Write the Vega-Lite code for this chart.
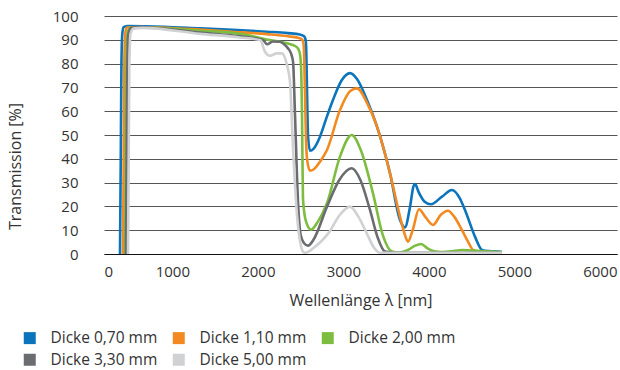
{
  "$schema": "https://vega.github.io/schema/vega-lite/v6.json",
  "autosize": {"type": "none"},
  "width": 513,
  "height": 238,
  "padding": {"left": 104, "top": 16, "right": 3, "bottom": 116},
  "config": {
    "view": {"stroke": null},
    "font": "Open Sans",
    "axis": {"labelFont": "Open Sans", "titleFont": "Open Sans", "labelColor": "#333333", "titleColor": "#333333", "titleFontWeight": "normal"},
    "legend": {"labelFont": "Open Sans"}
  },
  "data": {
    "values": [
      {"s": "Dicke 0,70 mm", "nm": 187, "t": 0},
      {"s": "Dicke 0,70 mm", "nm": 196, "t": 40},
      {"s": "Dicke 0,70 mm", "nm": 204, "t": 80},
      {"s": "Dicke 0,70 mm", "nm": 214, "t": 92.5},
      {"s": "Dicke 0,70 mm", "nm": 230, "t": 95.3},
      {"s": "Dicke 0,70 mm", "nm": 280, "t": 95.8},
      {"s": "Dicke 0,70 mm", "nm": 700, "t": 95.5},
      {"s": "Dicke 0,70 mm", "nm": 1123, "t": 94.8},
      {"s": "Dicke 0,70 mm", "nm": 1500, "t": 94.2},
      {"s": "Dicke 0,70 mm", "nm": 1906, "t": 93.4},
      {"s": "Dicke 0,70 mm", "nm": 2150, "t": 92.8},
      {"s": "Dicke 0,70 mm", "nm": 2292, "t": 92.2},
      {"s": "Dicke 0,70 mm", "nm": 2340, "t": 91.5},
      {"s": "Dicke 0,70 mm", "nm": 2358, "t": 90},
      {"s": "Dicke 0,70 mm", "nm": 2366, "t": 85},
      {"s": "Dicke 0,70 mm", "nm": 2374, "t": 70},
      {"s": "Dicke 0,70 mm", "nm": 2386, "t": 50},
      {"s": "Dicke 0,70 mm", "nm": 2409, "t": 43.4},
      {"s": "Dicke 0,70 mm", "nm": 2450, "t": 44.2},
      {"s": "Dicke 0,70 mm", "nm": 2526, "t": 49.3},
      {"s": "Dicke 0,70 mm", "nm": 2600, "t": 57},
      {"s": "Dicke 0,70 mm", "nm": 2678, "t": 64.7},
      {"s": "Dicke 0,70 mm", "nm": 2780, "t": 73},
      {"s": "Dicke 0,70 mm", "nm": 2877, "t": 76},
      {"s": "Dicke 0,70 mm", "nm": 2959, "t": 73.5},
      {"s": "Dicke 0,70 mm", "nm": 3076, "t": 64.7},
      {"s": "Dicke 0,70 mm", "nm": 3193, "t": 53.5},
      {"s": "Dicke 0,70 mm", "nm": 3345, "t": 33.9},
      {"s": "Dicke 0,70 mm", "nm": 3462, "t": 14.3},
      {"s": "Dicke 0,70 mm", "nm": 3520, "t": 11.2},
      {"s": "Dicke 0,70 mm", "nm": 3580, "t": 20},
      {"s": "Dicke 0,70 mm", "nm": 3620, "t": 28.5},
      {"s": "Dicke 0,70 mm", "nm": 3638, "t": 29.4},
      {"s": "Dicke 0,70 mm", "nm": 3680, "t": 26},
      {"s": "Dicke 0,70 mm", "nm": 3750, "t": 22},
      {"s": "Dicke 0,70 mm", "nm": 3825, "t": 20.9},
      {"s": "Dicke 0,70 mm", "nm": 3950, "t": 24},
      {"s": "Dicke 0,70 mm", "nm": 4070, "t": 26.9},
      {"s": "Dicke 0,70 mm", "nm": 4160, "t": 23.5},
      {"s": "Dicke 0,70 mm", "nm": 4222, "t": 18.5},
      {"s": "Dicke 0,70 mm", "nm": 4339, "t": 7.3},
      {"s": "Dicke 0,70 mm", "nm": 4421, "t": 1.7},
      {"s": "Dicke 0,70 mm", "nm": 4500, "t": 1.2},
      {"s": "Dicke 0,70 mm", "nm": 4573, "t": 1.1},
      {"s": "Dicke 0,70 mm", "nm": 4655, "t": 0.8},

      {"s": "Dicke 1,10 mm", "nm": 222, "t": 0},
      {"s": "Dicke 1,10 mm", "nm": 230, "t": 40},
      {"s": "Dicke 1,10 mm", "nm": 238, "t": 80},
      {"s": "Dicke 1,10 mm", "nm": 248, "t": 92.5},
      {"s": "Dicke 1,10 mm", "nm": 265, "t": 95.2},
      {"s": "Dicke 1,10 mm", "nm": 400, "t": 95.4},
      {"s": "Dicke 1,10 mm", "nm": 1123, "t": 94.3},
      {"s": "Dicke 1,10 mm", "nm": 1500, "t": 93.4},
      {"s": "Dicke 1,10 mm", "nm": 1906, "t": 92.4},
      {"s": "Dicke 1,10 mm", "nm": 2150, "t": 91.5},
      {"s": "Dicke 1,10 mm", "nm": 2292, "t": 90.6},
      {"s": "Dicke 1,10 mm", "nm": 2320, "t": 90},
      {"s": "Dicke 1,10 mm", "nm": 2335, "t": 88},
      {"s": "Dicke 1,10 mm", "nm": 2343, "t": 80},
      {"s": "Dicke 1,10 mm", "nm": 2351, "t": 68},
      {"s": "Dicke 1,10 mm", "nm": 2360, "t": 52},
      {"s": "Dicke 1,10 mm", "nm": 2375, "t": 40},
      {"s": "Dicke 1,10 mm", "nm": 2409, "t": 35},
      {"s": "Dicke 1,10 mm", "nm": 2450, "t": 35.5},
      {"s": "Dicke 1,10 mm", "nm": 2530, "t": 39},
      {"s": "Dicke 1,10 mm", "nm": 2608, "t": 43.7},
      {"s": "Dicke 1,10 mm", "nm": 2760, "t": 60.5},
      {"s": "Dicke 1,10 mm", "nm": 2880, "t": 68.5},
      {"s": "Dicke 1,10 mm", "nm": 2959, "t": 69.6},
      {"s": "Dicke 1,10 mm", "nm": 3076, "t": 63.5},
      {"s": "Dicke 1,10 mm", "nm": 3193, "t": 53.5},
      {"s": "Dicke 1,10 mm", "nm": 3345, "t": 33.9},
      {"s": "Dicke 1,10 mm", "nm": 3462, "t": 15.7},
      {"s": "Dicke 1,10 mm", "nm": 3520, "t": 8},
      {"s": "Dicke 1,10 mm", "nm": 3556, "t": 5.2},
      {"s": "Dicke 1,10 mm", "nm": 3610, "t": 10},
      {"s": "Dicke 1,10 mm", "nm": 3684, "t": 18.8},
      {"s": "Dicke 1,10 mm", "nm": 3760, "t": 15.5},
      {"s": "Dicke 1,10 mm", "nm": 3848, "t": 12.2},
      {"s": "Dicke 1,10 mm", "nm": 3940, "t": 16.5},
      {"s": "Dicke 1,10 mm", "nm": 4023, "t": 18.2},
      {"s": "Dicke 1,10 mm", "nm": 4100, "t": 15.5},
      {"s": "Dicke 1,10 mm", "nm": 4187, "t": 10},
      {"s": "Dicke 1,10 mm", "nm": 4260, "t": 5},
      {"s": "Dicke 1,10 mm", "nm": 4316, "t": 1.7},
      {"s": "Dicke 1,10 mm", "nm": 4421, "t": 0.6},
      {"s": "Dicke 1,10 mm", "nm": 4655, "t": 0.5},

      {"s": "Dicke 2,00 mm", "nm": 246, "t": 0},
      {"s": "Dicke 2,00 mm", "nm": 254, "t": 40},
      {"s": "Dicke 2,00 mm", "nm": 262, "t": 80},
      {"s": "Dicke 2,00 mm", "nm": 275, "t": 92.5},
      {"s": "Dicke 2,00 mm", "nm": 300, "t": 94.8},
      {"s": "Dicke 2,00 mm", "nm": 400, "t": 95.2},
      {"s": "Dicke 2,00 mm", "nm": 1123, "t": 93.8},
      {"s": "Dicke 2,00 mm", "nm": 1591, "t": 92.5},
      {"s": "Dicke 2,00 mm", "nm": 1942, "t": 89.9},
      {"s": "Dicke 2,00 mm", "nm": 2140, "t": 88.5},
      {"s": "Dicke 2,00 mm", "nm": 2240, "t": 87.3},
      {"s": "Dicke 2,00 mm", "nm": 2275, "t": 86},
      {"s": "Dicke 2,00 mm", "nm": 2292, "t": 84},
      {"s": "Dicke 2,00 mm", "nm": 2304, "t": 79.4},
      {"s": "Dicke 2,00 mm", "nm": 2316, "t": 58},
      {"s": "Dicke 2,00 mm", "nm": 2327, "t": 23.4},
      {"s": "Dicke 2,00 mm", "nm": 2360, "t": 14},
      {"s": "Dicke 2,00 mm", "nm": 2420, "t": 10.2},
      {"s": "Dicke 2,00 mm", "nm": 2500, "t": 13.5},
      {"s": "Dicke 2,00 mm", "nm": 2608, "t": 21.3},
      {"s": "Dicke 2,00 mm", "nm": 2760, "t": 40.9},
      {"s": "Dicke 2,00 mm", "nm": 2897, "t": 50},
      {"s": "Dicke 2,00 mm", "nm": 3000, "t": 44},
      {"s": "Dicke 2,00 mm", "nm": 3146, "t": 25.5},
      {"s": "Dicke 2,00 mm", "nm": 3260, "t": 8},
      {"s": "Dicke 2,00 mm", "nm": 3368, "t": 1},
      {"s": "Dicke 2,00 mm", "nm": 3450, "t": 0.6},
      {"s": "Dicke 2,00 mm", "nm": 3560, "t": 1.8},
      {"s": "Dicke 2,00 mm", "nm": 3640, "t": 3.5},
      {"s": "Dicke 2,00 mm", "nm": 3708, "t": 4.2},
      {"s": "Dicke 2,00 mm", "nm": 3780, "t": 2.5},
      {"s": "Dicke 2,00 mm", "nm": 3850, "t": 1.3},
      {"s": "Dicke 2,00 mm", "nm": 3950, "t": 0.8},
      {"s": "Dicke 2,00 mm", "nm": 4100, "t": 1.3},
      {"s": "Dicke 2,00 mm", "nm": 4187, "t": 1.7},
      {"s": "Dicke 2,00 mm", "nm": 4300, "t": 1.4},
      {"s": "Dicke 2,00 mm", "nm": 4655, "t": 0.8},

      {"s": "Dicke 3,30 mm", "nm": 257, "t": 0},
      {"s": "Dicke 3,30 mm", "nm": 265, "t": 40},
      {"s": "Dicke 3,30 mm", "nm": 273, "t": 80},
      {"s": "Dicke 3,30 mm", "nm": 285, "t": 92.5},
      {"s": "Dicke 3,30 mm", "nm": 320, "t": 95},
      {"s": "Dicke 3,30 mm", "nm": 420, "t": 95.3},
      {"s": "Dicke 3,30 mm", "nm": 1123, "t": 93},
      {"s": "Dicke 3,30 mm", "nm": 1591, "t": 91.5},
      {"s": "Dicke 3,30 mm", "nm": 1860, "t": 89.9},
      {"s": "Dicke 3,30 mm", "nm": 1906, "t": 88.1},
      {"s": "Dicke 3,30 mm", "nm": 1977, "t": 89.3},
      {"s": "Dicke 3,30 mm", "nm": 2058, "t": 89.2},
      {"s": "Dicke 3,30 mm", "nm": 2110, "t": 88},
      {"s": "Dicke 3,30 mm", "nm": 2152, "t": 86.4},
      {"s": "Dicke 3,30 mm", "nm": 2185, "t": 84.5},
      {"s": "Dicke 3,30 mm", "nm": 2211, "t": 80.8},
      {"s": "Dicke 3,30 mm", "nm": 2234, "t": 58.4},
      {"s": "Dicke 3,30 mm", "nm": 2269, "t": 22},
      {"s": "Dicke 3,30 mm", "nm": 2300, "t": 8},
      {"s": "Dicke 3,30 mm", "nm": 2340, "t": 4.5},
      {"s": "Dicke 3,30 mm", "nm": 2386, "t": 3.5},
      {"s": "Dicke 3,30 mm", "nm": 2450, "t": 6},
      {"s": "Dicke 3,30 mm", "nm": 2608, "t": 19.9},
      {"s": "Dicke 3,30 mm", "nm": 2750, "t": 31},
      {"s": "Dicke 3,30 mm", "nm": 2897, "t": 36},
      {"s": "Dicke 3,30 mm", "nm": 3000, "t": 31},
      {"s": "Dicke 3,30 mm", "nm": 3111, "t": 18.5},
      {"s": "Dicke 3,30 mm", "nm": 3200, "t": 7},
      {"s": "Dicke 3,30 mm", "nm": 3287, "t": 1},
      {"s": "Dicke 3,30 mm", "nm": 3400, "t": 0.5},
      {"s": "Dicke 3,30 mm", "nm": 4655, "t": 0.5},

      {"s": "Dicke 5,00 mm", "nm": 281, "t": 0},
      {"s": "Dicke 5,00 mm", "nm": 289, "t": 40},
      {"s": "Dicke 5,00 mm", "nm": 297, "t": 80},
      {"s": "Dicke 5,00 mm", "nm": 310, "t": 92.5},
      {"s": "Dicke 5,00 mm", "nm": 345, "t": 94.7},
      {"s": "Dicke 5,00 mm", "nm": 450, "t": 95},
      {"s": "Dicke 5,00 mm", "nm": 1123, "t": 92.5},
      {"s": "Dicke 5,00 mm", "nm": 1591, "t": 91},
      {"s": "Dicke 5,00 mm", "nm": 1830, "t": 89.8},
      {"s": "Dicke 5,00 mm", "nm": 1883, "t": 85},
      {"s": "Dicke 5,00 mm", "nm": 1942, "t": 83.3},
      {"s": "Dicke 5,00 mm", "nm": 2020, "t": 84.3},
      {"s": "Dicke 5,00 mm", "nm": 2082, "t": 84.3},
      {"s": "Dicke 5,00 mm", "nm": 2140, "t": 79.4},
      {"s": "Dicke 5,00 mm", "nm": 2175, "t": 72.4},
      {"s": "Dicke 5,00 mm", "nm": 2211, "t": 44.4},
      {"s": "Dicke 5,00 mm", "nm": 2257, "t": 16.4},
      {"s": "Dicke 5,00 mm", "nm": 2300, "t": 4},
      {"s": "Dicke 5,00 mm", "nm": 2327, "t": 1},
      {"s": "Dicke 5,00 mm", "nm": 2351, "t": 0.5},
      {"s": "Dicke 5,00 mm", "nm": 2450, "t": 2.5},
      {"s": "Dicke 5,00 mm", "nm": 2624, "t": 8.7},
      {"s": "Dicke 5,00 mm", "nm": 2760, "t": 16.5},
      {"s": "Dicke 5,00 mm", "nm": 2877, "t": 19.9},
      {"s": "Dicke 5,00 mm", "nm": 2970, "t": 16},
      {"s": "Dicke 5,00 mm", "nm": 3073, "t": 8.7},
      {"s": "Dicke 5,00 mm", "nm": 3160, "t": 2.5},
      {"s": "Dicke 5,00 mm", "nm": 3228, "t": 0.5},
      {"s": "Dicke 5,00 mm", "nm": 4655, "t": 0.5}
    ]
  },
  "mark": {"type": "line", "interpolate": "monotone", "strokeWidth": 2.6, "clip": true},
  "encoding": {
    "x": {
      "field": "nm", "type": "quantitative",
      "scale": {"domain": [0, 6000], "nice": false, "zero": false},
      "axis": {
        "title": "Wellenlänge λ [nm]",
        "values": [0, 1000, 2000, 3000, 4000, 5000, 6000],
        "format": "d",
        "grid": false, "ticks": false, "tickSize": 0,
        "domain": true, "domainColor": "#111111", "domainWidth": 1,
        "labelFlush": false,
        "labelAlign": {"condition": {"test": "datum.value === 0", "value": "left"}, "value": "right"},
        "labelFontSize": 15, "labelPadding": 10,
        "titleFontSize": 16, "titlePadding": 13
      }
    },
    "y": {
      "field": "t", "type": "quantitative",
      "scale": {"domain": [0, 100], "nice": false},
      "axis": {
        "title": "Transmission [%]",
        "values": [0, 10, 20, 30, 40, 50, 60, 70, 80, 90, 100],
        "grid": true, "gridColor": "#555555", "gridWidth": 1,
        "domain": false, "ticks": false, "tickSize": 0,
        "labelFontSize": 15, "labelPadding": 26,
        "titleFontSize": 16, "titleAngle": -90,
        "titleX": -89, "titleY": 150, "titleAlign": "center", "titleBaseline": "middle"
      }
    },
    "color": {
      "field": "s", "type": "nominal",
      "scale": {
        "domain": ["Dicke 0,70 mm", "Dicke 1,10 mm", "Dicke 2,00 mm", "Dicke 3,30 mm", "Dicke 5,00 mm"],
        "range": ["#0b74bb", "#f28a21", "#7cbd3f", "#6b6c70", "#d0d1d3"]
      },
      "legend": {
        "title": null,
        "orient": "none",
        "direction": "horizontal",
        "legendX": -82,
        "legendY": 314,
        "columns": 3,
        "padding": 0,
        "symbolType": "square",
        "symbolSize": 144,
        "labelFontSize": 15.5,
        "labelColor": "#333333",
        "labelOffset": 13,
        "columnPadding": 13,
        "rowPadding": 5,
        "encode": {"symbols": {"update": {"fill": {"scale": "color", "field": "value"}, "strokeWidth": {"value": 0}, "opacity": {"value": 1}}}}
      }
    }
  }
}
